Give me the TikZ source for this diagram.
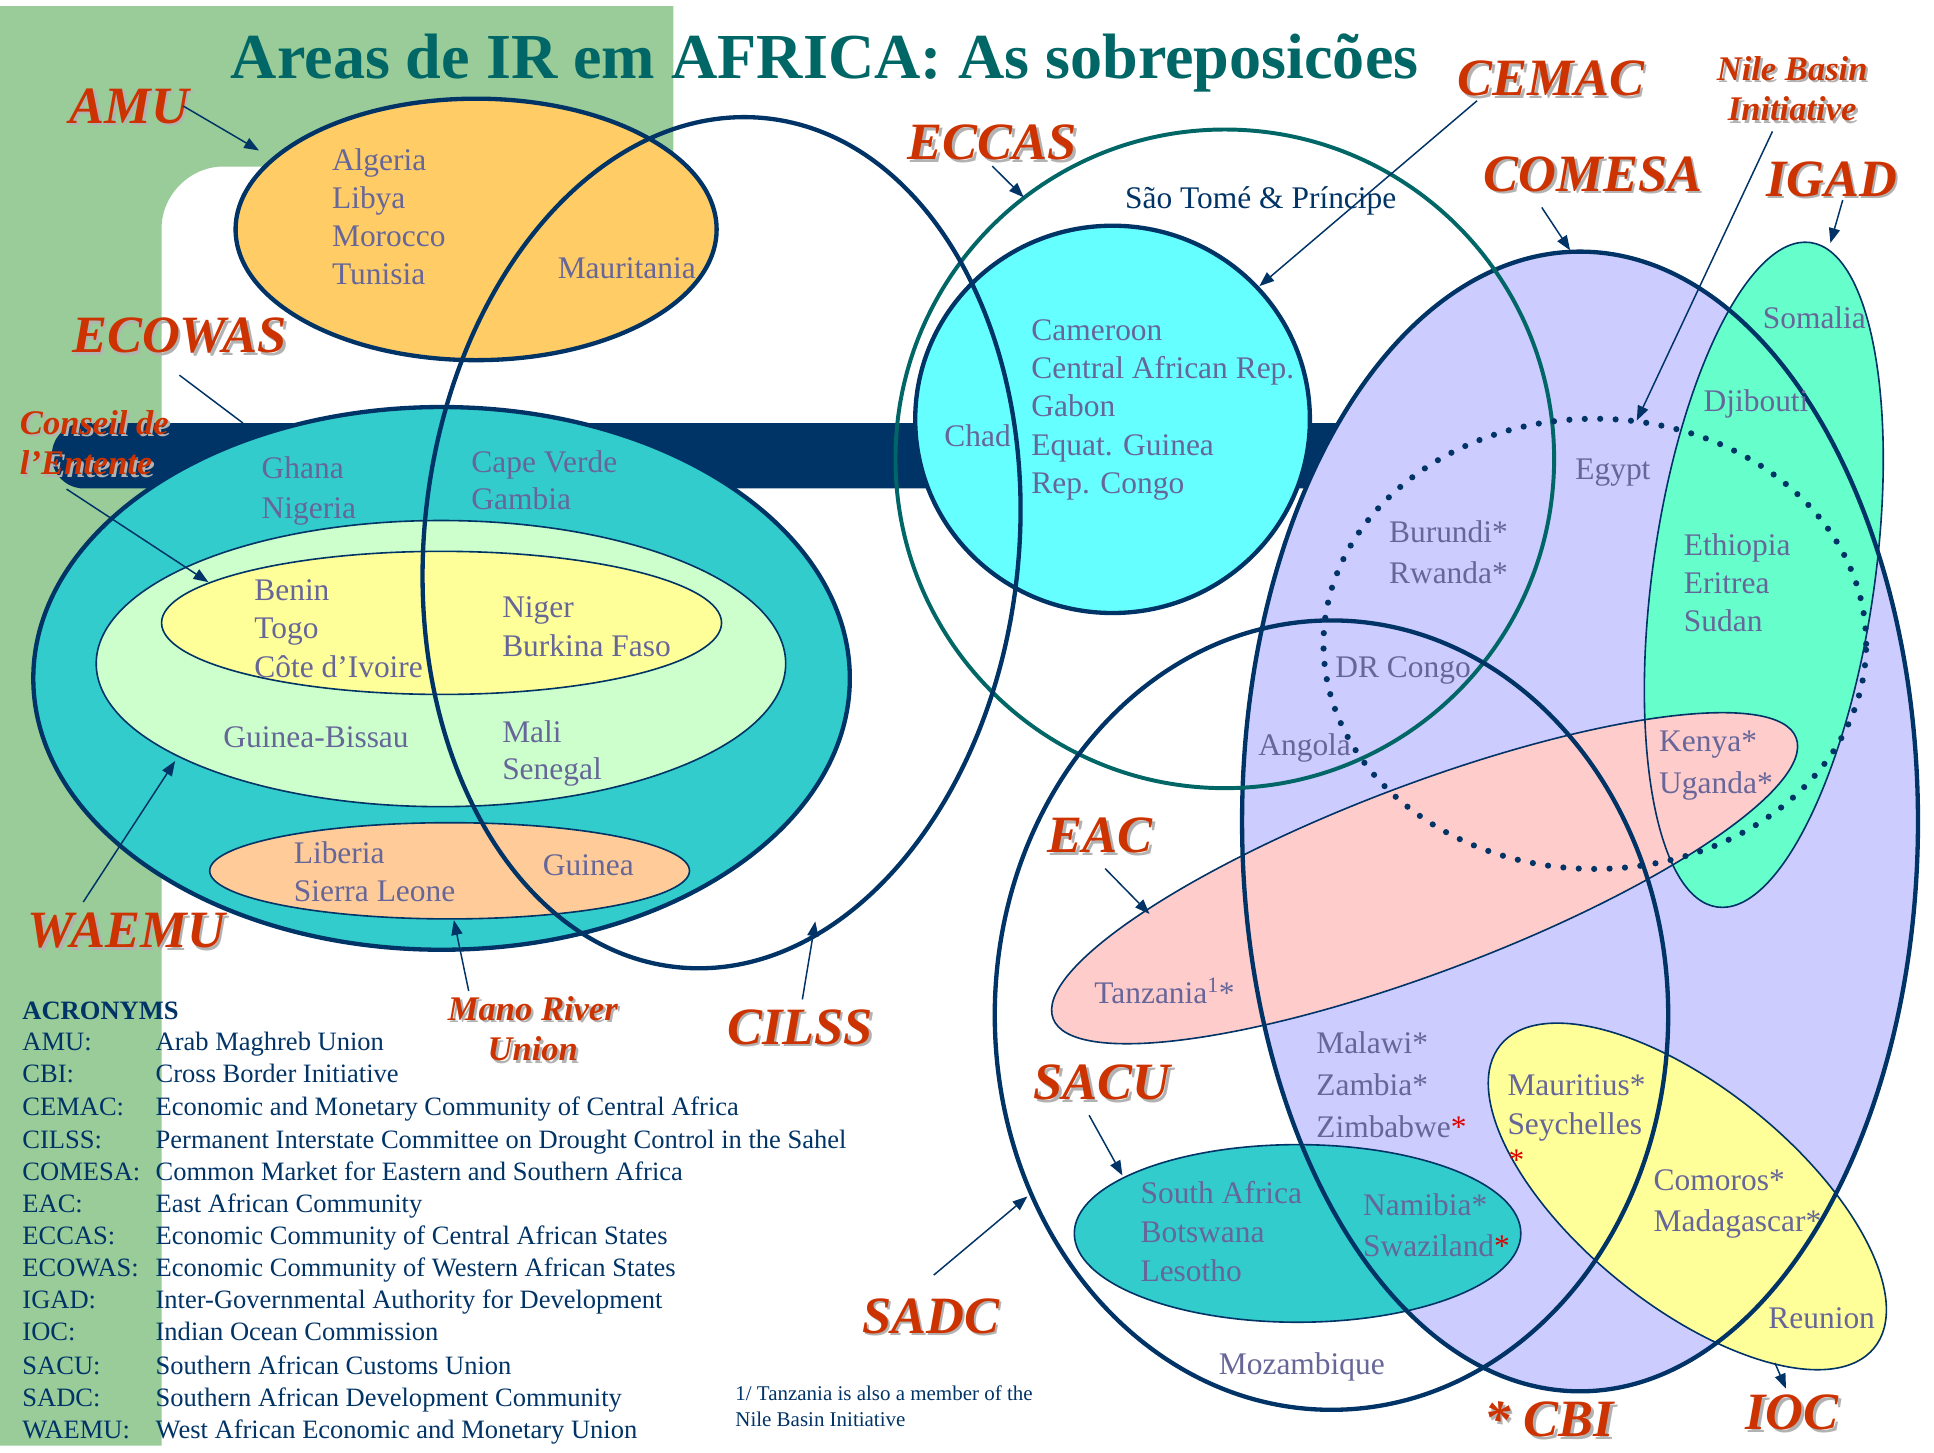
\documentclass[tikz,border=0pt]{standalone}
\usepackage{fontspec}
\setmainfont{Liberation Serif}
\usetikzlibrary{arrows.meta}

\definecolor{navy}{HTML}{003366}
\definecolor{sidegreen}{HTML}{99CC99}
\definecolor{amufill}{HTML}{FFCC66}
\definecolor{ecowasfill}{HTML}{33CCCC}
\definecolor{paleleaf}{HTML}{CCFFCC}
\definecolor{paleyellow}{HTML}{FFFF99}
\definecolor{peach}{HTML}{FFCC99}
\definecolor{cemacfill}{HTML}{66FFFF}
\definecolor{eccasline}{HTML}{006666}
\definecolor{comesafill}{HTML}{CCCCFF}
\definecolor{igadfill}{HTML}{66FFCC}
\definecolor{eacfill}{HTML}{FFCCCC}
\definecolor{countryink}{HTML}{666699}
\definecolor{tagred}{HTML}{CC3300}
\definecolor{tagshade}{HTML}{B2B2B2}
\definecolor{titleink}{HTML}{006666}
\definecolor{starred}{HTML}{DD0000}

\newcommand{\shadowed}[1]{\rlap{\kern2pt\raisebox{-2pt}{\textcolor{tagshade}{#1}}}#1}

\begin{document}
\begin{tikzpicture}[x=1pt, y=-1pt,
    bigring/.style={draw=navy, line width=3.5pt},
    thinring/.style={draw=navy, line width=1.3pt},
    country/.style={anchor=west, inner sep=0pt, text=countryink, font=\fontsize{25.5}{31}\selectfont, text height=18pt, text depth=2pt},
    orgtag/.style={inner sep=0pt, text=tagred, font=\fontsize{42.5}{46}\selectfont\bfseries\itshape, text height=28pt, text depth=0pt},
    smalltag/.style={inner sep=0pt, text=tagred, font=\fontsize{28}{33}\selectfont\bfseries\itshape, align=center},
    pointer/.style={draw=navy, line width=1.2pt, -{Triangle[length=12pt, width=9pt]}},
    acro/.style={anchor=west, inner sep=0pt, text=navy, font=\fontsize{21.5}{26}\selectfont, text height=15pt, text depth=1pt}]

        \useasboundingbox (0,0) rectangle (1568,1178);
        \fill[white] (0,0) rectangle (1568,1178);

        % background
        \fill[sidegreen] (0,5) -- (546,5) -- (546,135) -- (181,135) .. controls (154,135) and (131,158) .. (131,185) -- (131,1172) -- (0,1172) -- cycle;
        \fill[navy, rounded corners=26pt] (42,343) rectangle (1150,396);

        % west africa
        \draw[bigring, fill=amufill] (386,186) ellipse [x radius=195pt, y radius=106pt];
        \draw[bigring, fill=ecowasfill] (358,550) ellipse [x radius=331pt, y radius=220pt];
        \draw[thinring, fill=paleleaf] (357.5,538) ellipse [x radius=279.5pt, y radius=116pt];
        \draw[thinring, fill=paleyellow] (358,505) ellipse [x radius=227pt, y radius=58pt];
        \draw[thinring, fill=peach] (364.5,706) ellipse [x radius=194.5pt, y radius=39pt];

        % central africa
        \draw[bigring, fill=cemacfill] (902,340) ellipse [x radius=160pt, y radius=157pt];

        % east and south
        \fill[comesafill] (1281,666) ellipse [x radius=274pt, y radius=462pt];
        \fill[igadfill, rotate around={-8:(1430,466)}] (1430,466) ellipse [x radius=90pt, y radius=272pt];
        \fill[eacfill, rotate around={20.7:(1155,712)}] (1155,712) ellipse [x radius=322pt, y radius=76pt];
        \fill[ecowasfill] (1052,1000) ellipse [x radius=181pt, y radius=72pt];
        \fill[paleyellow, rotate around={-39:(1368,970)}] (1368,970) ellipse [x radius=195pt, y radius=88pt];

        \draw[bigring] (1281,666) ellipse [x radius=274pt, y radius=462pt];
        \draw[thinring, rotate around={-8:(1430,466)}] (1430,466) ellipse [x radius=90pt, y radius=272pt];
        \draw[thinring, rotate around={20.7:(1155,712)}] (1155,712) ellipse [x radius=322pt, y radius=76pt];
        \draw[thinring] (1052,1000) ellipse [x radius=181pt, y radius=72pt];
        \draw[thinring, rotate around={-39:(1368,970)}] (1368,970) ellipse [x radius=195pt, y radius=88pt];
        \draw[eccasline, line width=3.2pt] (993,372) circle [radius=267pt];
        \draw[bigring] (1079.5,823) ellipse [x radius=273pt, y radius=320pt];
        \draw[bigring, rotate around={-6:(585,440)}] (585,440) ellipse [x radius=241pt, y radius=346pt];
        \draw[navy, line width=5pt, line cap=round, dash pattern=on 0pt off 12.5pt] (1293,522) ellipse [x radius=220pt, y radius=182.5pt];

        % title
        \node[anchor=base west, inner sep=0pt, text=titleink, font=\fontsize{52}{56}\selectfont\bfseries] (title) at (187,63.5) {Areas de IR em AFRICA: As sobreposicões};

        % organisation names
        \node[orgtag] (AMU) at (105,86) {\shadowed{AMU}};
        \node[orgtag] (ECOWAS) at (145.5,272) {\shadowed{ECOWAS}};
        \node[orgtag] (WAEMU) at (102.5,754.5) {\shadowed{WAEMU}};
        \node[orgtag] (CILSS) at (648.5,832.5) {\shadowed{CILSS}};
        \node[orgtag] (ECCAS) at (804.5,115.5) {\shadowed{ECCAS}};
        \node[orgtag] (CEMAC) at (1257.5,63.5) {\shadowed{CEMAC}};
        \node[orgtag] (COMESA) at (1291.5,141) {\shadowed{COMESA}};
        \node[orgtag] (IGAD) at (1485,145) {\shadowed{IGAD}};
        \node[orgtag] (EAC) at (892,677.5) {\shadowed{EAC}};
        \node[orgtag] (SACU) at (893.5,877.5) {\shadowed{SACU}};
        \node[orgtag] (SADC) at (754.5,1067) {\shadowed{SADC}};
        \node[orgtag] (CBI) at (1256,1151) {\shadowed{* CBI}};
        \node[orgtag] (IOC) at (1453,1145) {\shadowed{IOC}};
        \node[smalltag, anchor=west, align=left] (entente) at (16,360) {\shadowed{Conseil de}\\\shadowed{l’Entente}};
        \node[smalltag] (nile) at (1453,73) {\shadowed{Nile Basin}\\\shadowed{Initiative}};
        \node[smalltag] (mano) at (432,835) {\shadowed{Mano River}\\\shadowed{Union}};

        % pointers
        \coordinate (amu-tip) at (210,122);
        \coordinate (ecowas-end) at (197,343);
        \coordinate (entente-tip) at (169,472);
        \coordinate (waemu-tip) at (142,617);
        \coordinate (mano-tip) at (368,746);
        \coordinate (cilss-tip) at (661,747);
        \coordinate (eccas-tip) at (830,160);
        \coordinate (cemac-tip) at (1021,232);
        \coordinate (nile-tip) at (1327,341);
        \coordinate (comesa-tip) at (1273,203);
        \coordinate (igad-tip) at (1484,197);
        \coordinate (eac-tip) at (932,741);
        \coordinate (sacu-tip) at (910,953);
        \coordinate (sadc-tip) at (833,970);
        \coordinate (ioc-tail) at (1439,1105);

        \draw[pointer] ([xshift=-5pt]AMU.east) -- (amu-tip);
        \draw[navy, line width=1.2pt] ([yshift=-18pt]ECOWAS.south) -- (ecowas-end);
        \draw[pointer] ([xshift=38pt, yshift=-9pt]entente.south west) -- (entente-tip);
        \draw[pointer] ([xshift=-35pt, yshift=9pt]WAEMU.north) -- (waemu-tip);
        \draw[pointer] ([xshift=-52pt, yshift=4pt]mano.north) -- (mano-tip);
        \draw[pointer] ([xshift=2pt, yshift=8pt]CILSS.north) -- (cilss-tip);
        \draw[pointer] ([yshift=-5pt]ECCAS.south) -- (eccas-tip);
        \draw[pointer] ([xshift=-60pt, yshift=-4pt]CEMAC.south) -- (cemac-tip);
        \draw[pointer] ([xshift=-16pt, yshift=-6pt]nile.south) -- (nile-tip);
        \draw[pointer] ([xshift=-41.5pt, yshift=-13pt]COMESA.south) -- (comesa-tip);
        \draw[pointer] ([xshift=9pt, yshift=-3pt]IGAD.south) -- (igad-tip);
        \draw[pointer] ([xshift=4pt, yshift=-12.5pt]EAC.south) -- (eac-tip);
        \draw[pointer] ([xshift=-10.5pt, yshift=-12.5pt]SACU.south) -- (sacu-tip);
        \draw[pointer] ([xshift=2.5pt, yshift=19pt]SADC.north) -- (sadc-tip);
        \draw[pointer] (ioc-tail) -- ([xshift=-5pt, yshift=5pt]IOC.north);

        % AMU members
        \node[country] (algeria) at (269,130) {Algeria};
        \node[country] (libya) at (269,161) {Libya};
        \node[country] (morocco) at (269,192) {Morocco};
        \node[country] (tunisia) at (269,223) {Tunisia};
        \node[country] (mauritania) at (452,217.5) {Mauritania};

        % ECOWAS members
        \node[country] (ghana) at (212,380) {Ghana};
        \node[country] (nigeria) at (212,412) {Nigeria};
        \node[country] (capeverde) at (382,375) {Cape Verde};
        \node[country] (gambia) at (382,405) {Gambia};
        \node[country] (benin) at (206,479) {Benin};
        \node[country] (togo) at (206,510) {Togo};
        \node[country] (ivoire) at (206,541) {Côte d’Ivoire};
        \node[country] (niger) at (407,493) {Niger};
        \node[country] (burkina) at (407,524) {Burkina Faso};
        \node[country] (bissau) at (181,598) {Guinea-Bissau};
        \node[country] (mali) at (407,594) {Mali};
        \node[country] (senegal) at (407,624) {Senegal};
        \node[country] (liberia) at (238,692) {Liberia};
        \node[country] (sierraleone) at (238,723) {Sierra Leone};
        \node[country] (guinea) at (440,702) {Guinea};

        % ECCAS members
        \node[country, text=navy] (saotome) at (912,161) {São Tomé \& Príncipe};
        \node[country] (cameroon) at (836,268) {Cameroon};
        \node[country] (car) at (836,299) {Central African Rep.};
        \node[country] (gabon) at (836,330) {Gabon};
        \node[country] (eqguinea) at (836,361) {Equat. Guinea};
        \node[country] (repcongo) at (836,392) {Rep. Congo};
        \node[country] (chad) at (765.5,354) {Chad};

        % COMESA and neighbours
        \node[country] (egypt) at (1277,381) {Egypt};
        \node[country] (burundi) at (1126,432) {Burundi*};
        \node[country] (rwanda) at (1126,465) {Rwanda*};
        \node[country] (drcongo) at (1082.5,541.5) {DR Congo};
        \node[country] (angola) at (1020,604.5) {Angola};
        \node[country] (somalia) at (1429,258) {Somalia};
        \node[country] (djibouti) at (1381,326) {Djibouti};
        \node[country] (ethiopia) at (1365,442) {Ethiopia};
        \node[country] (eritrea) at (1365,473) {Eritrea};
        \node[country] (sudan) at (1365,504) {Sudan};
        \node[country] (kenya) at (1345,601) {Kenya*};
        \node[country] (uganda) at (1345,635.5) {Uganda*};
        \node[country] (tanzania) at (887,805.5) {Tanzania\textsuperscript{1}*};
        \node[country] (malawi) at (1067,846.5) {Malawi*};
        \node[country] (zambia) at (1067,880.5) {Zambia*};
        \node[country] (zimbabwe) at (1067,914) {Zimbabwe\textcolor{starred}{*}};
        \node[country] (mauritius) at (1222,880.5) {Mauritius*};
        \node[country] (seychelles) at (1222,911.5) {Seychelles};
        \node[country, text=starred] (cbistar) at (1223,941) {*};
        \node[country] (comoros) at (1340.5,957) {Comoros*};
        \node[country] (madagascar) at (1340.5,990.5) {Madagascar*};
        \node[country] (reunion) at (1433.5,1069) {Reunion};
        \node[country] (southafrica) at (924.5,967.5) {South Africa};
        \node[country] (botswana) at (924.5,999) {Botswana};
        \node[country] (lesotho) at (924.5,1031) {Lesotho};
        \node[country] (namibia) at (1105,977.5) {Namibia*};
        \node[country] (swaziland) at (1105,1010.5) {Swaziland\textcolor{starred}{*}};
        \node[country] (mozambique) at (988,1106) {Mozambique};

        % acronyms
        \node[acro, font=\fontsize{21.5}{26}\selectfont\bfseries] (acronyms) at (18,819.5) {ACRONYMS};
        \node[acro] (key-amu) at (18,845) {AMU:};
        \node[acro] (def-amu) at (126,845) {Arab Maghreb Union};
        \node[acro] (key-cbi) at (18,871) {CBI:};
        \node[acro] (def-cbi) at (126,871) {Cross Border Initiative};
        \node[acro] (key-cemac) at (18,897) {CEMAC:};
        \node[acro] (def-cemac) at (126,897) {Economic and Monetary Community of Central Africa};
        \node[acro] (key-cilss) at (18,924) {CILSS:};
        \node[acro] (def-cilss) at (126,924) {Permanent Interstate Committee on Drought Control in the Sahel};
        \node[acro] (key-comesa) at (18,950) {COMESA:};
        \node[acro] (def-comesa) at (126,950) {Common Market for Eastern and Southern Africa};
        \node[acro] (key-eac) at (18,976) {EAC:};
        \node[acro] (def-eac) at (126,976) {East African Community};
        \node[acro] (key-eccas) at (18,1002) {ECCAS:};
        \node[acro] (def-eccas) at (126,1002) {Economic Community of Central African States};
        \node[acro] (key-ecowas) at (18,1028) {ECOWAS:};
        \node[acro] (def-ecowas) at (126,1028) {Economic Community of Western African States};
        \node[acro] (key-igad) at (18,1054) {IGAD:};
        \node[acro] (def-igad) at (126,1054) {Inter-Governmental Authority for Development};
        \node[acro] (key-ioc) at (18,1080) {IOC:};
        \node[acro] (def-ioc) at (126,1080) {Indian Ocean Commission};
        \node[acro] (key-sacu) at (18,1107) {SACU:};
        \node[acro] (def-sacu) at (126,1107) {Southern African Customs Union};
        \node[acro] (key-sadc) at (18,1133) {SADC:};
        \node[acro] (def-sadc) at (126,1133) {Southern African Development Community};
        \node[acro] (key-waemu) at (18,1159) {WAEMU:};
        \node[acro] (def-waemu) at (126,1159) {West African Economic and Monetary Union};

        \node[anchor=west, inner sep=0pt, text=navy, font=\fontsize{17}{20.5}\selectfont, align=left] (footnote) at (596,1140) {1/ Tanzania is also a member of the\\Nile Basin Initiative};

        \end{tikzpicture}
\end{document}
